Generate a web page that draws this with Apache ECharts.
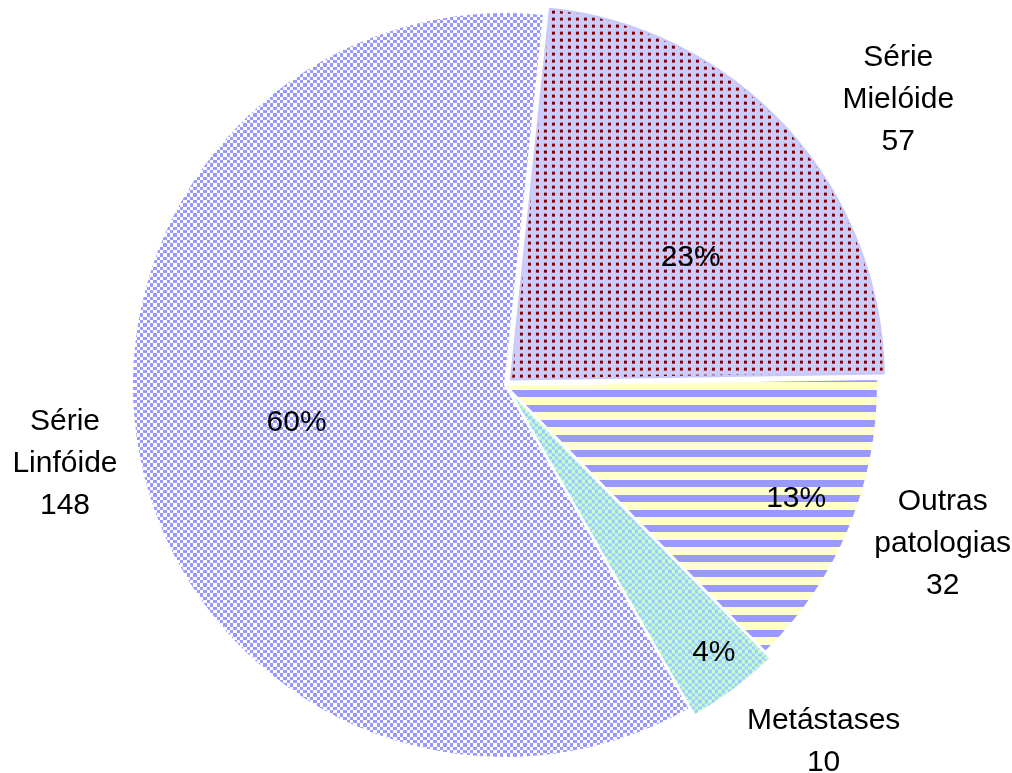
<!DOCTYPE html>
<html>
<head>
<meta charset="utf-8">
<script src="https://cdn.jsdelivr.net/npm/echarts@6/dist/echarts.min.js"></script>
<style>
html,body{margin:0;padding:0;background:#fff;}
#chart{width:1012px;height:773px;}
</style>
</head>
<body>
<div id="chart"></div>
<script>
// Data
const categories = ['Série Mielóide', 'Outras patologias', 'Metástases', 'Série Linfóide'];
const outerLabels = ['Série\nMielóide', 'Outras\npatologias', 'Metástases', 'Série\nLinfóide'];
const values = [57, 32, 10, 148];
const exploded = [true, false, true, false];

function makeTile(w, h, draw) {
  const c = document.createElement('canvas');
  c.width = w; c.height = h;
  const ctx = c.getContext('2d');
  draw(ctx);
  return { image: c, repeat: 'repeat' };
}
const cellSizes = [3, 4, 3, 3, 4, 3];
function checker(a, b, hole) {
  const size = cellSizes.reduce((s, v) => s + v, 0);
  return makeTile(size, size, ctx => {
    let x = 0;
    for (let i = 0; i < cellSizes.length; i++) {
      let y = 0;
      for (let j = 0; j < cellSizes.length; j++) {
        let col = (i + j) % 2 === 0 ? a : b;
        if (hole && i === 2 && j === 3) col = b;
        ctx.fillStyle = col;
        ctx.fillRect(x, y, cellSizes[i], cellSizes[j]);
        y += cellSizes[j];
      }
      x += cellSizes[i];
    }
  });
}
const patLinf = checker('#9999ff', '#ffffff', true);
const patMeta = checker('#99ccff', '#ccffcc', false);
const patMiel = makeTile(8, 7, ctx => {
  ctx.fillStyle = '#ccccff'; ctx.fillRect(0, 0, 8, 7);
  ctx.fillStyle = '#800000'; ctx.fillRect(2, 2, 3, 3);
});
const patOut = makeTile(8, 15, ctx => {
  ctx.fillStyle = '#ffffcc'; ctx.fillRect(0, 0, 8, 15);
  ctx.fillStyle = '#9999ff'; ctx.fillRect(0, 0, 8, 7);
});
const patterns = [patMiel, patOut, patMeta, patLinf];
const borderColors = ['#c8c8fa', '#ffffff', '#ffffff', '#ffffff'];

// label nudges (style) relative to library-computed positions
const innerNudge = [[40, 6], [116, 42], [90, 110], [-23, -1]];
const outerNudge = [[48, 31], [5, -20], [37, -17], [18, -17]];

const total = values.reduce((s, v) => s + v, 0);
const font = { fontFamily: 'Liberation Sans, Arial, sans-serif', fontSize: 30, color: '#000' };

const chart = echarts.init(document.getElementById('chart'), null, { renderer: 'canvas' });
chart.setOption({
  animation: false,
  backgroundColor: '#fff',
  series: [
    {
      type: 'pie',
      center: [505, 385],
      radius: [0, 373],
      startAngle: 84,
      clockwise: true,
      avoidLabelOverlap: false,
      selectedMode: 'multiple',
      selectedOffset: 8,
      emphasis: { disabled: true },
      silent: true,
      data: values.map((v, i) => ({
        name: categories[i],
        value: v,
        selected: exploded[i],
        itemStyle: { color: patterns[i], borderColor: borderColors[i], borderWidth: 2 },
        label: { offset: innerNudge[i] },
        select: { label: { offset: innerNudge[i] }, itemStyle: { color: patterns[i], borderColor: borderColors[i], borderWidth: 2 } }
      })),
      label: {
        show: true,
        position: 'inside',
        formatter: p => Math.round(p.value / total * 100) + '%',
        ...font
      },
      labelLine: { show: false }
    },
    {
      type: 'pie',
      center: [505, 385],
      radius: [440, 490],
      startAngle: 84,
      clockwise: true,
      avoidLabelOverlap: false,
      silent: true,
      emphasis: { disabled: true },
      itemStyle: { color: 'rgba(0,0,0,0)', borderWidth: 0 },
      data: values.map((v, i) => ({
        name: categories[i],
        value: v,
        label: { offset: outerNudge[i] }
      })),
      label: {
        show: true,
        position: 'inside',
        formatter: p => outerLabels[p.dataIndex] + '\n' + p.value,
        lineHeight: 42,
        align: 'center',
        ...font
      },
      labelLine: { show: false }
    }
  ]
});
</script>
</body>
</html>
